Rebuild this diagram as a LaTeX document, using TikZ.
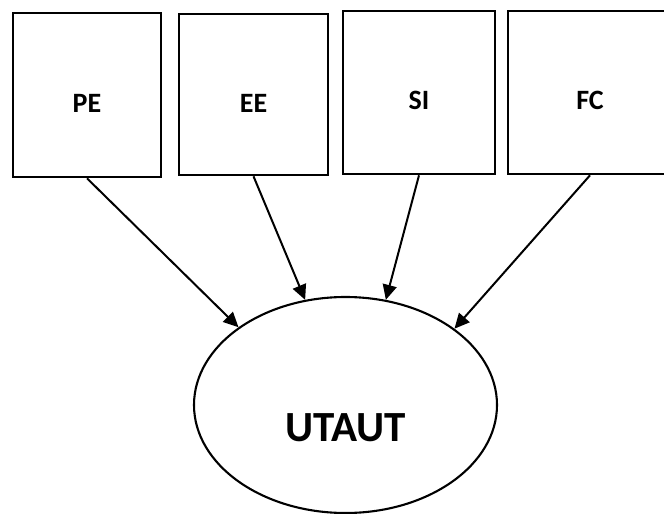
\documentclass[tikz,border=0pt]{standalone}
\usepackage{fontspec}
\setmainfont{Carlito}
\usetikzlibrary{shapes.geometric,arrows.meta}

\tikzset{
  factor/.style={draw=black, line width=2.6pt, rectangle, inner sep=0pt},
  factorlabel/.style={font=\bfseries\fontsize{28}{30}\selectfont},
  model/.style={draw=black, line width=2.1pt, ellipse, inner sep=0pt,
                minimum width=303pt, minimum height=216pt},
  modellabel/.style={font=\bfseries\fontsize{43}{46}\selectfont},
  link/.style={line width=2pt, -{Triangle[length=15pt,width=14pt]}}
}

\begin{document}
\begin{tikzpicture}[x=1pt, y=-1pt]
  \clip (0,0) rectangle (664,514);
  \fill[white] (0,0) rectangle (664,514);

  % construct boxes
  \node[factor, minimum width=148pt, minimum height=164pt,
        label={[factorlabel, yshift=-8pt]center:PE}] (PE) at (87,95) {};
  \node[factor, minimum width=149pt, minimum height=161pt,
        label={[factorlabel, yshift=-8.5pt]center:EE}] (EE) at (253.5,94.5) {};
  \node[factor, minimum width=152pt, minimum height=163pt,
        label={[factorlabel, yshift=-7.5pt]center:SI}] (SI) at (419,92.5) {};
  \node[factor, minimum width=164pt, minimum height=163pt,
        label={[factorlabel, yshift=-7.5pt]center:FC}] (FC) at (590,92.5) {};

  % the model
  \node[model] (U) at (345.5,405) {};
  \node[modellabel] (UT) at ([yshift=-23pt]U.center) {UTAUT};

  % influences
  \draw[link] (PE.south) -- (U.144.4);
  \draw[link] (EE.south) -- (U.111.5);
  \draw[link] (SI.south) -- (U.69.9);
  \draw[link] (FC.south) -- (U.35.6);
\end{tikzpicture}
\end{document}
